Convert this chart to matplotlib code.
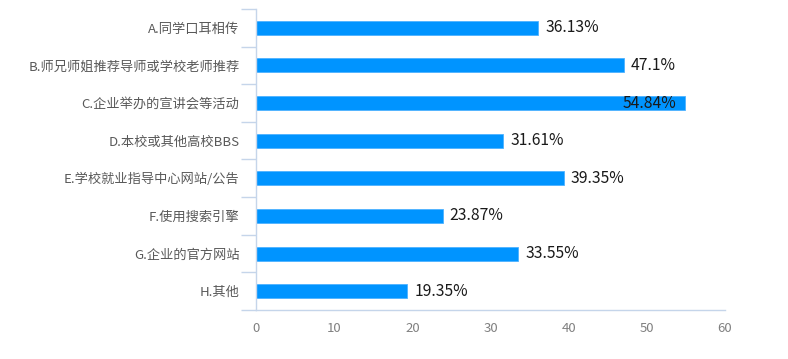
import numpy as np
import matplotlib.pyplot as plt

plt.rcParams['font.family'] = ['Noto Sans CJK SC', 'DejaVu Sans']

categories = ["A.同学口耳相传", "B.师兄师姐推荐导师或学校老师推荐", "C.企业举办的宣讲会等活动",
              "D.本校或其他高校BBS", "E.学校就业指导中心网站/公告", "F.使用搜索引擎",
              "G.企业的官方网站", "H.其他"]
values = [36.13, 47.1, 54.84, 31.61, 39.35, 23.87, 33.55, 19.35]
labels = ["36.13%", "47.1%", "54.84%", "31.61%", "39.35%", "23.87%", "33.55%", "19.35%"]

bar_color = "#0094FF"
axis_color = "#C5D5EA"

fig = plt.figure(figsize=(7.88, 3.59), dpi=100)
ax = fig.add_axes([0.325, 0.1365, 0.595, 0.8385])

y = np.arange(len(categories))
ax.barh(y, values, height=0.37, color=bar_color, edgecolor="#4DB2FF", linewidth=0.6)

for i, (v, lab) in enumerate(zip(values, labels)):
    if v > 50:
        ax.annotate(lab, (v, i), xytext=(-6, 0), textcoords="offset points",
                    ha="right", va="center", fontsize=11.3, color="#1a1a1a")
    else:
        ax.annotate(lab, (v, i), xytext=(5, 0), textcoords="offset points",
                    ha="left", va="center", fontsize=11.3, color="#1a1a1a")

ax.set_xlim(0, 60)
ax.set_ylim(len(categories) - 0.5, -0.5)
ax.set_xticks(np.arange(0, 61, 10))
ax.set_yticks(y)
ax.set_yticklabels(categories)
ax.set_yticks(np.arange(-0.5, len(categories), 1), minor=True)

for s in ["top", "right"]:
    ax.spines[s].set_visible(False)
for s in ["left", "bottom"]:
    ax.spines[s].set_color(axis_color)
    ax.spines[s].set_linewidth(1)

ax.tick_params(axis="y", which="major", length=0, pad=12, labelsize=9.5, labelcolor="#595959")
ax.tick_params(axis="y", which="minor", length=11, color=axis_color, width=1)
ax.tick_params(axis="x", length=0, pad=9, labelsize=9.5, labelcolor="#808080")

fig.savefig("out.png", dpi=100)
